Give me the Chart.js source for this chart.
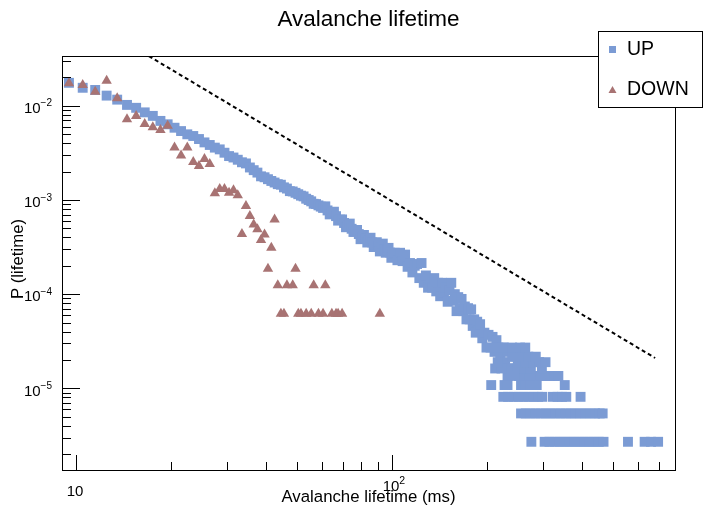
<!DOCTYPE html>
<html>
<head>
<meta charset="utf-8">
<title>Avalanche lifetime</title>
<script src="https://cdn.jsdelivr.net/npm/chart.js@4.4.1/dist/chart.umd.min.js"></script>
<style>
  html, body { margin: 0; padding: 0; background: #fff; }
  #chart { display: block; }
</style>
</head>
<body>
<canvas id="chart" width="703" height="507"></canvas>
<script>
// UP: bin centre (ms) and probability
const upX = [
  9.5, 10.5, 11.5, 12.5, 13.5, 14.5, 15.5, 16.5, 17.5, 18.5, 19.5, 20.5, 21.5, 22.5, 23.5, 24.5, 25.5, 26.5,
  27.5, 28.5, 29.5, 30.5, 31.5, 32.5, 33.5, 34.5, 35.5, 36.5, 37.5, 38.5, 39.5, 40.5, 41.5, 42.5, 43.5, 44.5,
  45.5, 46.5, 47.5, 48.5, 49.5, 50.5, 51.5, 52.5, 53.5, 54.5, 55.5, 56.5, 57.5, 58.5, 59.5, 60.5,
  61.5, 62.5, 63.5, 64.5, 65.5, 66.5, 67.5, 68.5, 69.5, 70.5, 71.5, 72.5, 73.5, 74.5, 75.5, 76.5, 77.5, 78.5,
  79.5, 80.5, 81.5, 82.5, 83.5, 84.5, 85.5, 86.5, 87.5, 88.5, 89.5, 90.5, 91.5, 92.5, 93.5, 94.5, 95.5, 96.5,
  97.5, 98.5, 99.5, 100.5,
  102, 104, 106, 108, 110, 112, 114, 116, 118, 120, 122, 124, 126, 128, 130, 132, 134, 136, 138, 140,
  142, 144, 146, 148, 150, 152, 154, 156, 158, 160, 162, 164, 166, 168, 170, 172, 174, 176, 178, 180,
  182, 184, 186, 188, 190, 193, 196, 199, 202, 205, 208, 211, 214, 217, 220, 224, 228, 232, 236, 240, 245, 250
];
const upY = [
  0.0175, 0.0155, 0.0147, 0.0128, 0.0116, 0.0102, 0.0095, 0.0085, 0.0078, 0.0069, 0.00635, 0.00584, 0.00538,
  0.00497, 0.00477, 0.00443, 0.00408, 0.00383,
  3.59e-3, 3.44e-3, 3.17e-3, 2.92e-3, 2.82e-3, 2.67e-3, 2.51e-3, 2.44e-3, 2.21e-3, 2.07e-3, 1.95e-3, 1.78e-3,
  1.74e-3, 1.66e-3, 1.59e-3, 1.53e-3, 1.47e-3, 1.45e-3, 1.36e-3, 1.32e-3, 1.24e-3, 1.23e-3, 1.19e-3, 1.15e-3,
  1.11e-3, 1.09e-3, 1.03e-3, 9.98e-4, 9.66e-4, 9.10e-4, 9.04e-4, 8.75e-4, 8.49e-4, 8.22e-4,
  8.55e-4, 7.74e-4, 7.02e-4, 7.29e-4, 7.50e-4, 6.73e-4, 6.03e-4, 6.18e-4, 6.21e-4, 5.69e-4, 5.13e-4, 5.30e-4,
  5.61e-4, 4.94e-4, 4.57e-4, 4.62e-4, 4.80e-4, 4.34e-4, 3.83e-4, 4.06e-4, 4.25e-4, 3.86e-4, 3.53e-4, 3.70e-4,
  3.97e-4, 3.54e-4, 3.16e-4, 3.39e-4, 3.56e-4, 3.25e-4, 2.84e-4, 3.12e-4, 3.44e-4, 3.00e-4, 2.75e-4, 2.88e-4,
  3.10e-4, 2.77e-4, 2.43e-4, 2.67e-4,
  2.75e-4, 2.29e-4, 2.75e-4, 2.24e-4, 2.63e-4, 1.95e-4, 2.14e-4, 1.70e-4, 2.00e-4, 2.09e-4, 1.48e-4, 2.14e-4,
  1.32e-4, 1.58e-4, 1.17e-4, 1.45e-4, 1.17e-4, 1.48e-4, 1.07e-4, 1.32e-4, 9.5e-5, 1.32e-4, 1.05e-4, 1.17e-4,
  8.3e-5, 1.10e-4, 1.32e-4, 8.5e-5, 1.0e-4, 6.6e-5, 9.3e-5, 7.1e-5, 8.9e-5, 6.6e-5, 7.4e-5, 5.4e-5, 7.1e-5,
  5.4e-5, 6.9e-5, 4.6e-5, 5.4e-5, 3.9e-5, 5.1e-5, 4.1e-5, 4.8e-5, 3.4e-5, 3.9e-5, 2.71e-5, 3.7e-5, 2.71e-5,
  3.52e-5, 2.44e-5, 3.25e-5, 2.71e-5, 2.17e-5, 2.71e-5, 1.9e-5, 2.44e-5, 1.63e-5, 2.17e-5, 1.63e-5, 1.63e-5
];

// UP tail: the low-count rows (1, 2, 3, 4, 5, 6, 7, 8, 10 entries)
const tailLevels = [2.71e-6, 5.42e-6, 8.13e-6, 1.084e-5, 1.355e-5, 1.626e-5, 1.897e-5, 2.168e-5, 2.71e-5];
const tailX = [
  [276, 304, 315, 327, 339, 351, 364, 377, 391, 405, 420, 435, 451, 467, 558, 630, 660, 695],
  [256, 265, 275, 285, 296, 307, 318, 330, 342, 355, 368, 381, 395, 409, 424, 439, 454, 464],
  [225, 233, 242, 251, 260, 270, 280, 290, 299, 323, 334, 345, 356, 395],
  [206, 227, 232, 256, 265, 274, 283, 287, 352],
  [232, 242, 252, 262, 272, 283, 294, 305, 316, 327, 336],
  [212, 222, 262, 275, 298],
  [216, 250, 265, 280, 292, 306],
  [245, 258, 270, 285],
  [213, 226, 240, 254, 264]
];

// DOWN
const downX = [
  9.5, 10.5, 11.5, 12.5, 13.5, 14.5, 15.5, 16.5, 17.5, 18.5, 19.5, 20.5, 21.5, 22.5, 23.5, 24.5, 25.5, 26.5,
  27.5, 28.5, 29.5, 30.5, 31.5, 32.5, 33.5, 34.5, 35.5, 36.5, 37.5, 38.5, 39.5, 40.5, 41.5, 42.5,
  43.5, 44.5, 45.5, 46.5, 48.5, 49.5, 50.5, 51.5, 53.5, 55.5, 56.5, 58.5, 60.5, 61.5, 64.5, 66.5, 67.5, 69.5, 91.5
];
const downY = [
  0.0173, 0.0166, 0.0141, 0.0184, 0.0120, 0.00717, 0.00778, 0.00640, 0.00590, 0.00552, 0.00614, 0.00361,
  0.00297, 0.00361, 0.00252, 0.00229, 0.00272, 0.00240, 0.00118, 0.00131, 0.00131, 0.00119, 0.00127, 0.00112,
  4.35e-4, 8.6e-4, 6.74e-4, 5.5e-4, 4.87e-4, 3.75e-4, 4.3e-4, 1.86e-4, 3.11e-4, 6.2e-4,
  1.24e-4, 6.2e-5, 6.2e-5, 1.24e-4, 1.24e-4, 1.86e-4, 6.2e-5, 6.2e-5, 6.2e-5, 6.2e-5, 1.24e-4, 6.2e-5,
  6.2e-5, 1.24e-4, 6.2e-5, 6.2e-5, 6.2e-5, 6.2e-5, 6.2e-5
];

// reference power law, slope -2
const guideX = [17, 680];
const guideY = [0.0336, 2.1e-5];

// axes
const xMin = 9.03, xMax = 786;
const yMin = 1.36e-6, yMax = 0.0337;
const xMajor = [10, 100];
const xMinor = [20, 30, 40, 50, 60, 70, 80, 90, 200, 300, 400, 500, 600, 700];
const xLabels = [['10', ''], ['10', '2']];
const yMajor = [1e-5, 1e-4, 1e-3, 1e-2];
const yMinor = [
  2e-6, 3e-6, 4e-6, 5e-6, 6e-6, 7e-6, 8e-6, 9e-6,
  2e-5, 3e-5, 4e-5, 5e-5, 6e-5, 7e-5, 8e-5, 9e-5,
  2e-4, 3e-4, 4e-4, 5e-4, 6e-4, 7e-4, 8e-4, 9e-4,
  2e-3, 3e-3, 4e-3, 5e-3, 6e-3, 7e-3, 8e-3, 9e-3,
  2e-2, 3e-2
];
const yLabels = [['10', '\u22125'], ['10', '\u22124'], ['10', '\u22123'], ['10', '\u22122']];

const UP_COLOR = '#7b9bd4';
const DOWN_COLOR = '#a87373';
const FONT = '"Liberation Sans", Arial, Helvetica, sans-serif';

const upPoints = upX.map((x, i) => ({ x: x, y: upY[i] }));
tailX.forEach((row, i) => row.forEach(x => upPoints.push({ x: x, y: tailLevels[i] })));
const downPoints = downX.map((x, i) => ({ x: x, y: downY[i] }));
const guidePoints = guideX.map((x, i) => ({ x: x, y: guideY[i] }));

function powLabel(ctx, base, sup, x, y, align, baseSize, supSize, raise) {
  ctx.font = baseSize + 'px ' + FONT;
  const wb = ctx.measureText(base).width;
  ctx.font = supSize + 'px ' + FONT;
  const ws = sup ? ctx.measureText(sup).width : 0;
  let left = align === 'right' ? x - wb - ws : x - wb / 2;
  ctx.textAlign = 'left';
  ctx.textBaseline = 'middle';
  ctx.font = baseSize + 'px ' + FONT;
  ctx.fillText(base, left, y);
  if (sup) {
    ctx.font = supSize + 'px ' + FONT;
    ctx.fillText(sup, left + wb, y - raise);
  }
}

const rootStyle = {
  id: 'rootStyle',
  afterDraw(chart) {
    const ctx = chart.ctx;
    const a = chart.chartArea;
    const xs = chart.scales.x, ys = chart.scales.y;
    ctx.save();
    ctx.fillStyle = '#000';
    ctx.strokeStyle = '#000';
    ctx.lineWidth = 1;

    // frame
    ctx.strokeRect(a.left + 0.5, a.top + 0.5, a.right - a.left, a.bottom - a.top);

    // ticks, pointing inwards
    ctx.beginPath();
    xMajor.concat(xMinor).forEach(v => {
      const px = Math.round(xs.getPixelForValue(v)) + 0.5;
      const len = xMajor.includes(v) ? 15 : 8;
      ctx.moveTo(px, a.bottom);
      ctx.lineTo(px, a.bottom - len);
    });
    yMajor.concat(yMinor).forEach(v => {
      const py = Math.round(ys.getPixelForValue(v)) + 0.5;
      const len = yMajor.includes(v) ? 18 : 9;
      ctx.moveTo(a.left, py);
      ctx.lineTo(a.left + len, py);
    });
    ctx.stroke();

    // tick labels (labels with an exponent sit a little higher)
    xMajor.forEach((v, i) => {
      const px = xs.getPixelForValue(v);
      const ly = xLabels[i][1] ? 487 : 492;
      powLabel(ctx, xLabels[i][0], xLabels[i][1], px - 1, ly, 'center', 15, 10.5, 6);
    });
    yMajor.forEach((v, i) => {
      const py = ys.getPixelForValue(v);
      powLabel(ctx, yLabels[i][0], yLabels[i][1], 52, py + 3, 'right', 15, 10, 5);
    });

    // titles
    ctx.textAlign = 'center';
    ctx.textBaseline = 'middle';
    ctx.font = '22.5px ' + FONT;
    ctx.fillText('Avalanche lifetime', (a.left + a.right) / 2, 20);
    ctx.font = '16.8px ' + FONT;
    ctx.fillText('Avalanche lifetime (ms)', (a.left + a.right) / 2, 497);
    ctx.save();
    ctx.translate(18.5, (a.top + a.bottom) / 2 - 4);
    ctx.rotate(-Math.PI / 2);
    ctx.fillText('P (lifetime)', 0, 0);
    ctx.restore();

    // legend box
    ctx.fillStyle = '#fff';
    ctx.fillRect(598, 31, 105, 77);
    ctx.strokeStyle = '#000';
    ctx.strokeRect(598.5, 31.5, 104, 76);
    ctx.fillStyle = UP_COLOR;
    ctx.fillRect(609, 46, 7, 7);
    ctx.fillStyle = DOWN_COLOR;
    ctx.beginPath();
    ctx.moveTo(612.5, 86);
    ctx.lineTo(608.5, 93);
    ctx.lineTo(616.5, 93);
    ctx.closePath();
    ctx.fill();
    ctx.fillStyle = '#000';
    ctx.textAlign = 'left';
    ctx.font = '19.5px ' + FONT;
    ctx.fillText('UP', 627, 50);
    ctx.fillText('DOWN', 627, 90);
    ctx.restore();
  }
};

new Chart(document.getElementById('chart').getContext('2d'), {
  type: 'scatter',
  data: {
    datasets: [
      {
        label: 'DOWN',
        data: downPoints,
        pointStyle: 'triangle',
        pointRadius: 6,
        backgroundColor: DOWN_COLOR,
        borderWidth: 0,
        order: 0
      },
      {
        label: 'UP',
        data: upPoints,
        pointStyle: 'rect',
        pointRadius: 7,
        backgroundColor: UP_COLOR,
        borderWidth: 0,
        order: 1
      },
      {
        label: 'x^-2',
        data: guidePoints,
        showLine: true,
        pointRadius: 0,
        borderColor: '#000',
        borderWidth: 2,
        borderDash: [4, 3],
        order: 2
      }
    ]
  },
  options: {
    responsive: false,
    animation: false,
    events: [],
    layout: { padding: { left: 62, right: 28, top: 56, bottom: 37 } },
    plugins: {
      legend: { display: false },
      title: { display: false },
      tooltip: { enabled: false }
    },
    scales: {
      x: { type: 'logarithmic', display: false, min: xMin, max: xMax },
      y: { type: 'logarithmic', display: false, min: yMin, max: yMax }
    }
  },
  plugins: [rootStyle]
});
</script>
</body>
</html>
